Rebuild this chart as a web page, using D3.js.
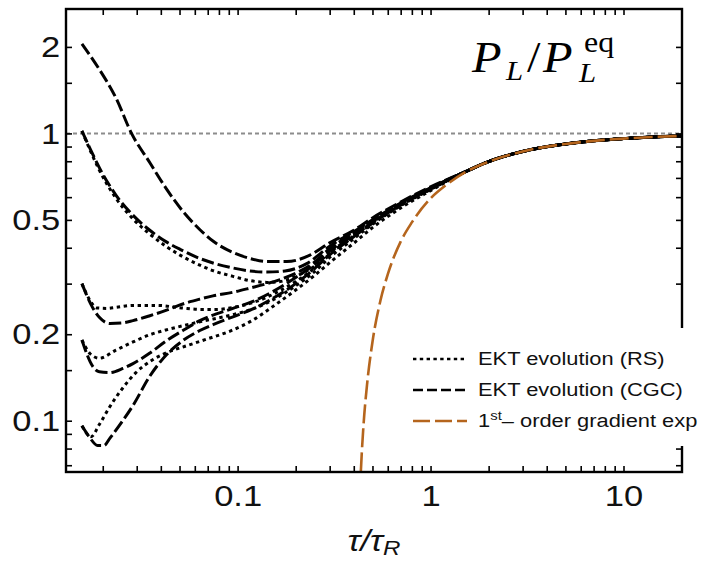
<!DOCTYPE html>
<html>
<head>
<meta charset="utf-8">
<script src="https://cdn.jsdelivr.net/npm/d3@7"></script>
<style>
  html, body { margin: 0; padding: 0; background: #fff; }
  svg { display: block; }
</style>
</head>
<body>
<svg id="chart" width="704" height="561"></svg>
<script>
// ---- axis ranges and ticks ----
const xDomain = [0.0129, 20.1];
const yDomain = [0.0663, 2.71];
const xTicks = [0.02, 0.03, 0.04, 0.05, 0.06, 0.07, 0.08, 0.09,
                0.1, 0.2, 0.3, 0.4, 0.5, 0.6, 0.7, 0.8, 0.9,
                1, 2, 3, 4, 5, 6, 7, 8, 9, 10];
const xTickLabels = [0.1, 1, 10];
const yTicks = [0.07, 0.08, 0.09, 0.1, 0.15, 0.2, 0.3, 0.4, 0.5,
                0.6, 0.7, 0.8, 0.9, 1, 1.5, 2];
const yTickLabels = [0.1, 0.2, 0.5, 1, 2];
const equilibrium = 1;

// ---- EKT evolution, CGC initial conditions: [tau/tauR, PL/PLeq] ----
const cgcFrom2 = [[0.0156,2.05],[0.0191,1.68],[0.0234,1.33],[0.0282,1.0],[0.0351,0.79],[0.0425,0.645],
  [0.0521,0.535],[0.0638,0.462],[0.0745,0.422],[0.0946,0.385],[0.116,0.367],[0.142,0.358],[0.18,0.358],
  [0.237,0.377],[0.3,0.416],[0.4,0.46],[0.5,0.508],[0.7,0.577],[1,0.652]];
const cgcFrom1 = [[0.0156,1.02],[0.017,0.9],[0.0192,0.76],[0.0234,0.61],[0.0286,0.52],[0.0348,0.462],
  [0.0425,0.42],[0.0503,0.395],[0.0637,0.367],[0.0745,0.354],[0.0946,0.34],[0.116,0.332],[0.142,0.329],
  [0.176,0.332],[0.228,0.352],[0.3,0.405],[0.4,0.455],[0.5,0.5],[0.7,0.572],[1,0.647]];
const cgcFrom03 = [[0.0156,0.30],[0.0177,0.248],[0.0192,0.229],[0.0218,0.218],[0.0254,0.219],[0.0287,0.223],
  [0.0351,0.232],[0.0425,0.242],[0.0503,0.253],[0.0637,0.265],[0.0745,0.272],[0.0946,0.28],[0.117,0.29],
  [0.142,0.3],[0.166,0.31],[0.2,0.326],[0.25,0.356],[0.3,0.397],[0.4,0.45],[0.5,0.497],[0.7,0.57],[1,0.645]];
const cgcFrom019 = [[0.0156,0.191],[0.0177,0.155],[0.0192,0.148],[0.0216,0.147],[0.0254,0.152],[0.0287,0.158],
  [0.0351,0.172],[0.0429,0.19],[0.052,0.206],[0.0637,0.223],[0.0946,0.246],[0.12,0.26],[0.15,0.28],
  [0.2,0.315],[0.25,0.35],[0.3,0.39],[0.4,0.445],[0.5,0.493],[0.7,0.567],[1,0.642]];
const cgcFrom0095 = [[0.0156,0.096],[0.017,0.088],[0.0188,0.082],[0.0203,0.082],[0.0218,0.087],[0.0254,0.1],
  [0.0287,0.113],[0.0351,0.143],[0.0429,0.17],[0.052,0.19],[0.0637,0.206],[0.0746,0.216],[0.0946,0.23],
  [0.12,0.245],[0.15,0.265],[0.2,0.3],[0.25,0.338],[0.3,0.378],[0.4,0.437],[0.5,0.487],[0.7,0.563],[1,0.64]];

// ---- EKT evolution, RS initial conditions ----
const rsFrom1 = [[0.0156,1.02],[0.017,0.89],[0.0192,0.745],[0.0234,0.595],[0.0286,0.505],[0.0348,0.448],
  [0.0425,0.405],[0.0503,0.377],[0.0637,0.348],[0.0745,0.333],[0.0946,0.318],[0.117,0.307],[0.142,0.303],
  [0.166,0.305],[0.2,0.318],[0.25,0.345],[0.3,0.385],[0.4,0.44],[0.5,0.49],[0.7,0.566],[1,0.643]];
const rsFrom03 = [[0.0156,0.30],[0.0172,0.262],[0.0186,0.247],[0.021,0.246],[0.0234,0.248],[0.0287,0.252],
  [0.038,0.252],[0.0512,0.247],[0.065,0.244],[0.078,0.244],[0.095,0.248],[0.116,0.256],[0.14,0.268],
  [0.16,0.28],[0.2,0.305],[0.25,0.34],[0.3,0.38],[0.4,0.44],[0.5,0.49],[0.7,0.565],[1,0.642]];
const rsFrom019 = [[0.0156,0.191],[0.0172,0.171],[0.0192,0.165],[0.0234,0.176],[0.0287,0.188],[0.035,0.199],
  [0.0425,0.207],[0.052,0.214],[0.0637,0.221],[0.0946,0.234],[0.12,0.245],[0.15,0.262],[0.2,0.295],
  [0.25,0.33],[0.3,0.37],[0.4,0.43],[0.5,0.483],[0.7,0.56],[1,0.638]];
const rsFrom0095 = [[0.0156,0.096],[0.0174,0.088],[0.0192,0.097],[0.0216,0.111],[0.0254,0.13],[0.0297,0.147],
  [0.0363,0.163],[0.0443,0.174],[0.054,0.182],[0.0686,0.192],[0.0946,0.207],[0.12,0.224],[0.15,0.248],
  [0.2,0.285],[0.25,0.32],[0.3,0.355],[0.4,0.415],[0.5,0.47],[0.7,0.55],[1,0.632]];

// late-time approach shared by every EKT run
const lateTau   = [1.5, 2, 3, 5, 7, 10, 15, 20];
const lateValue = [0.733, 0.798, 0.865, 0.919, 0.942, 0.959, 0.973, 0.98];

// ---- first-order gradient expansion ----
const gradTau   = [0.43, 0.435, 0.44, 0.45, 0.47, 0.5, 0.55, 0.6, 0.7, 0.8, 1, 1.2, 1.5, 2, 3, 5, 7, 10, 15, 20];
const gradValue = [0.055, 0.066, 0.077, 0.098, 0.136, 0.188, 0.262, 0.323, 0.42, 0.49, 0.594, 0.66, 0.73, 0.797, 0.865, 0.919, 0.942, 0.959, 0.973, 0.98];

const legendLabels = ["EKT evolution (RS)", "EKT evolution (CGC)", "order gradient exp"];

// ---- layout ----
const plot = { left: 66, right: 682, top: 9, bottom: 472 };
const ORANGE = "#b5651d";
const SANS = "'Liberation Sans', Arial, Helvetica, sans-serif";
const SERIF = "'Liberation Serif', 'Times New Roman', serif";
const STRETCH = "scale(1.15,1)";

const svg = d3.select("#chart");
const x = d3.scaleLog().domain(xDomain).range([plot.left, plot.right]);
const y = d3.scaleLog().domain(yDomain).range([plot.bottom, plot.top]);

svg.append("rect").attr("width", 704).attr("height", 561).attr("fill", "#fff");

svg.append("defs").append("clipPath").attr("id", "plotClip")
  .append("rect")
  .attr("x", plot.left).attr("y", plot.top)
  .attr("width", plot.right - plot.left).attr("height", plot.bottom - plot.top);

const g = svg.append("g").attr("clip-path", "url(#plotClip)");

// equilibrium reference line
g.append("line")
  .attr("x1", plot.left).attr("x2", plot.right)
  .attr("y1", y(equilibrium)).attr("y2", y(equilibrium))
  .attr("stroke", "#8c8c8c").attr("stroke-width", 2)
  .attr("stroke-dasharray", "4,3");

const line = d3.line()
  .x(d => x(d[0])).y(d => y(d[1]))
  .curve(d3.curveMonotoneX);

const withTail = pts => pts.concat(lateTau.map((t, i) => [t, lateValue[i]]));

const DOT = "3.4,3.6";
const DASH = "12.5,4";

[rsFrom1, rsFrom03, rsFrom019, rsFrom0095].forEach(pts => {
  g.append("path").datum(withTail(pts))
    .attr("d", line).attr("fill", "none")
    .attr("stroke", "#000").attr("stroke-width", 3)
    .attr("stroke-dasharray", DOT);
});

[cgcFrom2, cgcFrom1, cgcFrom03, cgcFrom019, cgcFrom0095].forEach(pts => {
  g.append("path").datum(withTail(pts))
    .attr("d", line).attr("fill", "none")
    .attr("stroke", "#000").attr("stroke-width", 3)
    .attr("stroke-dasharray", DASH);
});

g.append("path").datum(gradTau.map((t, i) => [t, gradValue[i]]))
  .attr("d", line).attr("fill", "none")
  .attr("stroke", ORANGE).attr("stroke-width", 2.6)
  .attr("stroke-dasharray", "19,5");

// ---- axes (ticks point inward, labels on bottom and left) ----
const styleAxis = sel => {
  sel.select(".domain").remove();
  sel.selectAll(".tick line").attr("stroke", "#000").attr("stroke-width", 1.6);
  sel.selectAll(".tick text")
    .attr("fill", "#111")
    .style("font-family", SANS).style("font-size", "30px")
    .attr("transform", STRETCH);
};

svg.append("g").attr("transform", `translate(0,${plot.bottom})`)
  .call(d3.axisBottom(x).tickValues(xTicks).tickSizeInner(-6).tickSizeOuter(0).tickPadding(13)
    .tickFormat(d => xTickLabels.includes(d) ? String(d) : ""))
  .call(styleAxis);

svg.append("g").attr("transform", `translate(0,${plot.top})`)
  .call(d3.axisTop(x).tickValues(xTicks).tickSizeInner(-6).tickSizeOuter(0).tickFormat(""))
  .call(styleAxis);

svg.append("g").attr("transform", `translate(${plot.left},0)`)
  .call(d3.axisLeft(y).tickValues(yTicks).tickSizeInner(-6).tickSizeOuter(0).tickPadding(5)
    .tickFormat(d => yTickLabels.includes(d) ? String(d) : ""))
  .call(styleAxis);

svg.append("g").attr("transform", `translate(${plot.right},0)`)
  .call(d3.axisRight(y).tickValues(yTicks).tickSizeInner(-6).tickSizeOuter(0).tickFormat(""))
  .call(styleAxis);

// frame
svg.append("rect")
  .attr("x", plot.left).attr("y", plot.top)
  .attr("width", plot.right - plot.left).attr("height", plot.bottom - plot.top)
  .attr("fill", "none").attr("stroke", "#000").attr("stroke-width", 2.4);

// ---- axis title ----
const xt = svg.append("text")
  .attr("transform", `translate(374,551) ${STRETCH}`)
  .attr("text-anchor", "middle")
  .style("font-family", SANS).style("font-size", "30px").style("font-style", "italic")
  .attr("fill", "#111");
xt.append("tspan").text("τ/τ");
xt.append("tspan").attr("dy", 4).style("font-size", "21px").text("R");

// ---- panel title P_L / P_L^eq ----
const titleParts = [
  { t: "P",  x: 472, y: 72, size: 44, italic: true },
  { t: "L",  x: 506, y: 80, size: 28, italic: true },
  { t: "/",  x: 527, y: 72, size: 44, italic: false },
  { t: "P",  x: 543, y: 72, size: 44, italic: true },
  { t: "eq", x: 584, y: 52, size: 29, italic: false },
  { t: "L",  x: 579, y: 82, size: 28, italic: true }
];
titleParts.forEach(p => {
  svg.append("text")
    .attr("transform", `translate(${p.x},${p.y}) scale(1.1,1)`)
    .style("font-family", SERIF).style("font-size", p.size + "px")
    .style("font-style", p.italic ? "italic" : "normal")
    .attr("fill", "#000").text(p.t);
});

// ---- legend ----
svg.append("rect").attr("x", 405).attr("y", 328).attr("width", 299).attr("height", 118).attr("fill", "#fff");

const legendRows = [
  { y: 359, stroke: "#000", dash: "3.4,3.4", width: 2.6 },
  { y: 390, stroke: "#000", dash: "10,4", width: 2.6 },
  { y: 421, stroke: ORANGE, dash: "17,5", width: 2.6 }
];
legendRows.forEach((r, i) => {
  svg.append("line").attr("x1", 413).attr("x2", 467).attr("y1", r.y).attr("y2", r.y)
    .attr("stroke", r.stroke).attr("stroke-width", r.width).attr("stroke-dasharray", r.dash);
  const t = svg.append("text")
    .attr("transform", `translate(478,${r.y + 6}) ${STRETCH}`)
    .style("font-family", SANS).style("font-size", "19px").attr("fill", "#111");
  if (i === 2) {
    t.append("tspan").text("1");
    t.append("tspan").attr("dy", -7).style("font-size", "13px").text("st");
    t.append("tspan").attr("dy", 7).text("\u2013 " + legendLabels[i]);
  } else {
    t.text(legendLabels[i]);
  }
});
</script>
</body>
</html>
